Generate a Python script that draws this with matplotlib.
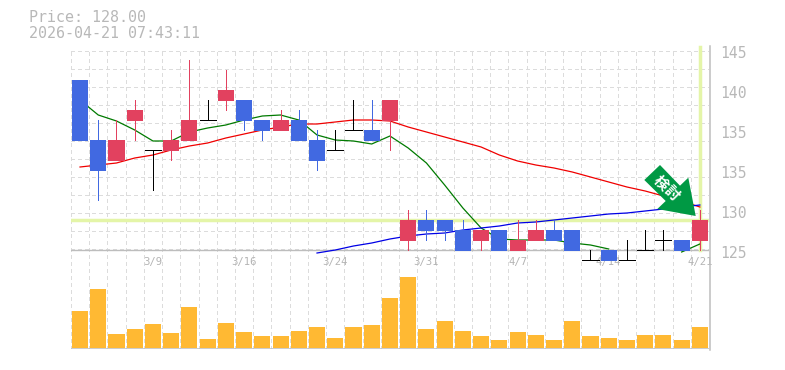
import numpy as np
import matplotlib.pyplot as plt
from matplotlib.patches import Polygon, Rectangle

plt.rcParams['font.family'] = ['DejaVu Sans Mono']

title_lines = ['Price: 128.00', '2026-04-21 07:43:11']

opens = [142, 136, 134, 138, 135, 135, 136, 138, 140, 140, 138, 137, 138, 136, 135, 137, 137, 138,
         126, 128, 128, 127, 126, 127, 125, 126, 127, 127, 124, 125, 124, 125, 126, 126, 126]
closes = [136, 133, 136, 139, 135, 136, 138, 138, 141, 138, 137, 138, 136, 134, 135, 137, 136, 140,
          128, 127, 127, 125, 127, 125, 126, 127, 126, 125, 124, 124, 124, 125, 126, 125, 128]
highs = [142, 138, 138, 140, 135, 137, 144, 140, 143, 140, 138, 139, 139, 137, 137, 140, 140, 140,
         129, 129, 128, 128, 127, 127, 128, 128, 128, 127, 125, 125, 126, 127, 127, 126, 129]
lows = [136, 130, 134, 136, 131, 134, 136, 138, 139, 137, 136, 137, 136, 133, 135, 137, 136, 135,
        125, 126, 126, 125, 125, 125, 125, 126, 126, 125, 124, 124, 124, 125, 125, 125, 125]
volumes = [37, 59, 14, 19, 24, 15, 41, 9, 25, 16, 12, 12, 17, 21, 10, 21, 23, 50,
           71, 19, 27, 17, 12, 8, 16, 13, 8, 27, 12, 10, 8, 13, 13, 8, 21]

ma_short = [140.0, 138.5, 137.9, 137.0, 135.9, 135.9, 136.8, 137.2, 137.5, 138.0, 138.4, 138.5,
            138.0, 136.5, 136.0, 135.9, 135.6, 136.4, 135.2, 133.7, 131.5, 129.2, 127.2, 126.1,
            126.0, 126.0, 126.0, 125.7, 125.5, 125.1, np.nan, np.nan, np.nan, 124.8, 125.6]
ma_long = [133.3, 133.5, 133.7, 134.2, 134.5, 135.0, 135.4, 135.7, 136.2, 136.6, 137.0, 137.3,
           137.6, 137.6, 137.8, 138.0, 138.0, 137.9, 137.3, 136.8, 136.3, 135.8, 135.3, 134.5,
           133.9, 133.5, 133.2, 132.8, 132.3, 131.8, 131.3, 130.9, 130.4, 129.9, 129.3]
ma_trend = [np.nan] * 13 + [124.7, 125.0, 125.4, 125.7, 126.1, 126.4, 126.6, 126.7, 127.0, 127.2, 127.4,
                            127.7, 127.8, 128.0, 128.2, 128.4, 128.6, 128.7, 128.9, 129.1, 129.3, 129.5]

date_ticks = [4, 9, 14, 19, 24, 29, 34]
date_labels = ['3/9', '3/16', '3/24', '3/31', '4/7', '4/14', '4/21']
price_ticks = [145, 141, 137, 133, 129, 125]
price_labels = ['145', '140', '135', '135', '130', '125']
current_price = 128

RED = '#e2415f'
BLUE = '#4169e1'
GRID = '#dcdcdc'
AXIS = '#bdbdbd'
TEXT = '#b8b8b8'
HILITE = '#e4f5a8'

W, H = 785, 370
L, R = 70.9, 709.0
fig = plt.figure(figsize=(W / 100, H / 100), dpi=100)


def px_axes(left, right, top, bottom):
    return fig.add_axes([left / W, 1 - bottom / H, (right - left) / W, (bottom - top) / H])


n = len(opens)
x = np.arange(n)

# grid behind everything
bg = px_axes(L, R, 51, 349)
bg.set_xlim(-0.5, n - 0.5)
bg.set_ylim(349, 51)
bg.axis('off')
for i in range(n + 1):
    bg.axvline(i - 0.5, color=GRID, lw=0.72, ls=(0, (3, 3)), zorder=1, antialiased=False)
for yy in range(51, 250, 18):
    bg.axhline(yy, color=GRID, lw=0.72, ls=(0, (3, 3)), zorder=1, antialiased=False)
bg.axhline(250, color=AXIS, lw=1, zorder=2)
bg.axhline(349, color=AXIS, lw=1.1, zorder=2)

# price panel
ax = px_axes(L, R, 50, 250)
ax.patch.set_alpha(0)
ax.set_xlim(-0.5, n - 0.5)
ax.set_ylim(125, 145)
for s in ax.spines.values():
    s.set_visible(False)
ax.axhline(current_price, color=HILITE, lw=2.5, zorder=2)
ax.plot([34, 34], [125, 145.3], color=HILITE, lw=2.5, zorder=2, clip_on=False)
ax.plot(x, ma_long, color='#f00000', lw=0.9, zorder=3)
ax.plot(x, ma_short, color='#007a00', lw=0.9, zorder=3, clip_on=False)
ax.plot(x, ma_trend, color='#0000e6', lw=0.9, zorder=3, clip_on=False)

for i in x:
    o, c, h, l = opens[i], closes[i], highs[i], lows[i]
    col = RED if c > o else BLUE if c < o else 'black'
    ax.plot([i, i], [l, h], color=col, lw=0.72, zorder=4, clip_on=False, solid_capstyle='butt',
            antialiased=False)
    if c == o:
        ax.plot([i - 0.44, i + 0.44], [c, c], color='black', lw=0.72, zorder=4, clip_on=False,
                solid_capstyle='butt', antialiased=False)
    else:
        ax.add_patch(Rectangle((i - 0.44, min(o, c) - 0.1), 0.88, abs(c - o) + 0.1, fc=col, ec='none',
                               zorder=5, clip_on=False))

ax.set_xticks(date_ticks, date_labels, color='#b4b4b4', fontsize=7.6)
ax.set_yticks([])
ax.tick_params(axis='x', length=0, pad=5)
for tick, label in zip(price_ticks, price_labels):
    ax.annotate(label, xy=(1, tick), xycoords=('axes fraction', 'data'), xytext=(8, -2.2),
                textcoords='offset points', color=TEXT, fontsize=10.6, ha='left', va='center',
                annotation_clip=False)

# volume panel
vol = px_axes(L, R, 250, 348)
vol.patch.set_alpha(0)
vol.set_xlim(-0.5, n - 0.5)
vol.set_ylim(0, 98)
vol.axis('off')
vol.bar(x, volumes, width=0.88, color='#ffb933', zorder=3)

# overlay in pixel coordinates for the right edge and the arrow
top = px_axes(0, W, 0, H)
top.set_xlim(0, W)
top.set_ylim(H, 0)
top.axis('off')
top.patch.set_alpha(0)
top.plot([710, 710], [46, 350], color=AXIS, lw=1.1)
top.add_patch(Polygon([(660, 165), (644.3, 180), (665.7, 201), (657.3, 209), (695.7, 216),
                       (688.3, 177.7), (680, 185.7)], fc='#009944', ec='none'))
cjk = ['Noto Sans CJK JP', 'DejaVu Sans']
top.text(660.7, 182.7, '検', color='white', fontsize=10.5, fontweight='bold', rotation=-45,
         ha='center', va='center', family=cjk)
top.text(671.7, 193, '討', color='white', fontsize=10.5, fontweight='bold', rotation=-45,
         ha='center', va='center', family=cjk)
top.text(29, 18, title_lines[0], color=TEXT, fontsize=10.8, va='center', ha='left')
top.text(29, 33, title_lines[1], color=TEXT, fontsize=10.8, va='center', ha='left')

fig.savefig('out.png', dpi=100)
